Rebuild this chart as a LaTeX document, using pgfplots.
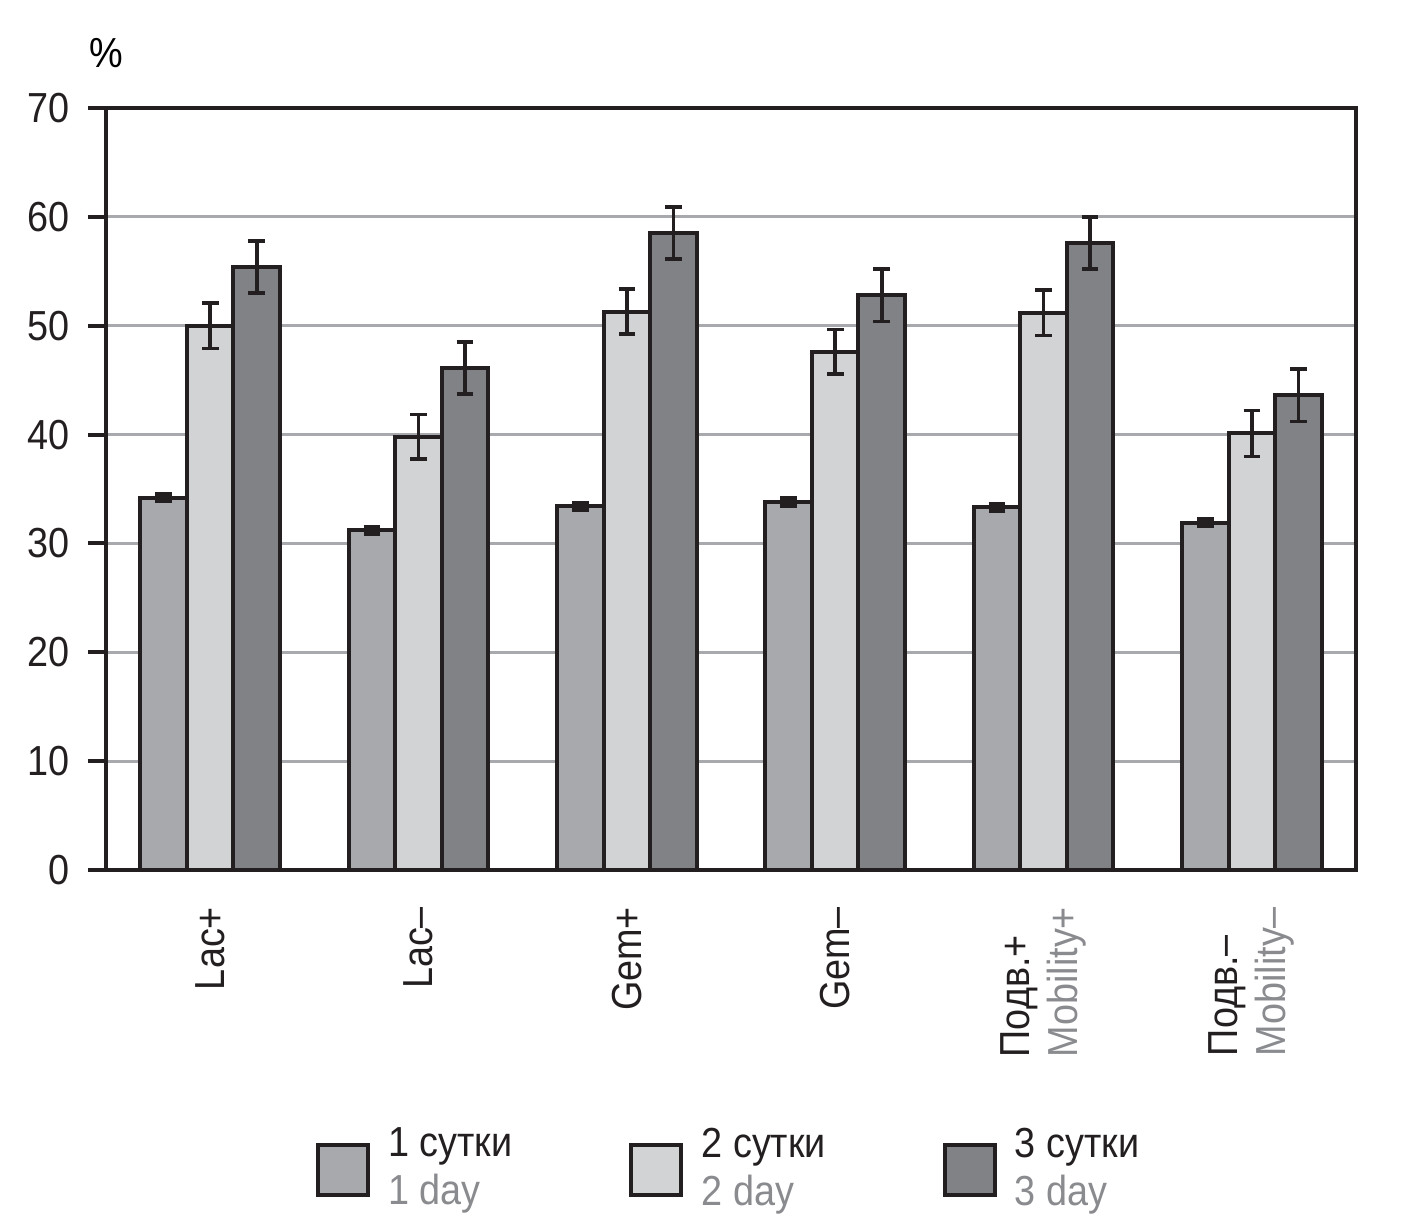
\documentclass[border=0pt]{standalone}
\usepackage{pgfplots}
\usepackage{pgfplotstable}
\pgfplotsset{compat=1.18}
\usepackage{fontspec}
\setmainfont{Liberation Sans}[FakeStretch=0.9]
\definecolor{cA}{HTML}{A7A9AC}
\definecolor{cB}{HTML}{D1D3D4}
\definecolor{cC}{HTML}{808285}
\definecolor{ink}{HTML}{231F20}
\definecolor{engray}{HTML}{8A8B8E}
\definecolor{gridgray}{HTML}{A7A9AC}
\pgfplotstableread{
x y1 e1 y2 e2 y3 e3
0 34.2 0.35 50.0 2.1 55.4 2.4
1 31.2 0.35 39.8 2.05 46.1 2.4
2 33.4 0.35 51.3 2.05 58.5 2.4
3 33.8 0.35 47.6 2.05 52.8 2.4
4 33.3 0.35 51.2 2.1 57.6 2.4
5 31.9 0.35 40.1 2.1 43.6 2.4
}\data
\pgfplotsset{
  myerr/.style={
    error bars/y dir=both, error bars/y explicit,
    error bars/error bar style={ink, line width=1.1pt},
    error bars/error mark options={ink, rotate=90, mark size=2.5pt, line width=1.1pt}},
}
\begin{document}
\fontsize{12.6}{14.4}\selectfont
\begin{tikzpicture}
\useasboundingbox (-31.8pt,-107.7pt) rectangle (388.8pt,261pt);
\begin{axis}[
  at={(0,0)}, anchor=south west,
  scale only axis, width=375pt, height=228.6pt,
  xmin=-0.5, xmax=5.5, ymin=0, ymax=70,
  ytick={0,10,...,70},
  xtick={0,...,5},
  xticklabels={Lac+, Lac–, Gem+, Gem–, {Подв.+\\\textcolor{engray}{Mobility+}}, {Подв.–\\\textcolor{engray}{Mobility–}}},
  font=\fontsize{12.6}{14.4}\selectfont,
  /pgf/number format/assume math mode=true,
  axis line style={ink, line width=1.2pt},
  tick align=outside,
  ytick pos=left,
  major tick length=5.4pt,
  ytick style={ink, line width=1.2pt},
  xtick style={draw=none},
  ymajorgrids,
  major grid style={gridgray, line width=0.9pt},
  yticklabel style={anchor=east, inner sep=0pt, text=ink},
  yticklabel shift=5.4pt,
  xticklabel style={rotate=90, anchor=east, align=left, inner sep=0pt, text=ink},
  xticklabel shift=5.5pt,
  ylabel={\%}, ylabel style={rotate=-90, at={(axis description cs:0,1)}, anchor=south, inner sep=0pt, yshift=12pt},
  ybar, bar width=13.95pt,
  legend columns=3,
  legend style={draw=none, at={(0.5,-0.32)}, anchor=north, font=\fontsize{12.6}{14.4}\selectfont, nodes={align=left, text=ink},
    /tikz/every odd column/.append style={column sep=3.5pt},
    /tikz/every even column/.append style={column sep=33pt}},
  legend cell align=left,
]
\addplot[draw=ink, line width=1.2pt, fill=cA, bar shift=-13.95pt, myerr, legend image code/.code={\draw[fill=cA, draw=ink, line width=1.2pt] (0pt,-7.5pt) rectangle (15pt,7.5pt);}] table[x=x, y=y1, y error=e1]{\data};
\addplot[draw=ink, line width=1.2pt, fill=cB, bar shift=0pt, myerr, legend image code/.code={\draw[fill=cB, draw=ink, line width=1.2pt] (0pt,-7.5pt) rectangle (15pt,7.5pt);}] table[x=x, y=y2, y error=e2]{\data};
\addplot[draw=ink, line width=1.2pt, fill=cC, bar shift=13.95pt, myerr, legend image code/.code={\draw[fill=cC, draw=ink, line width=1.2pt] (0pt,-7.5pt) rectangle (15pt,7.5pt);}] table[x=x, y=y3, y error=e3]{\data};
\legend{{1 сутки\\\textcolor{engray}{1 day}}, {2 сутки\\\textcolor{engray}{2 day}}, {3 сутки\\\textcolor{engray}{3 day}}}
\end{axis}
\end{tikzpicture}
\end{document}
